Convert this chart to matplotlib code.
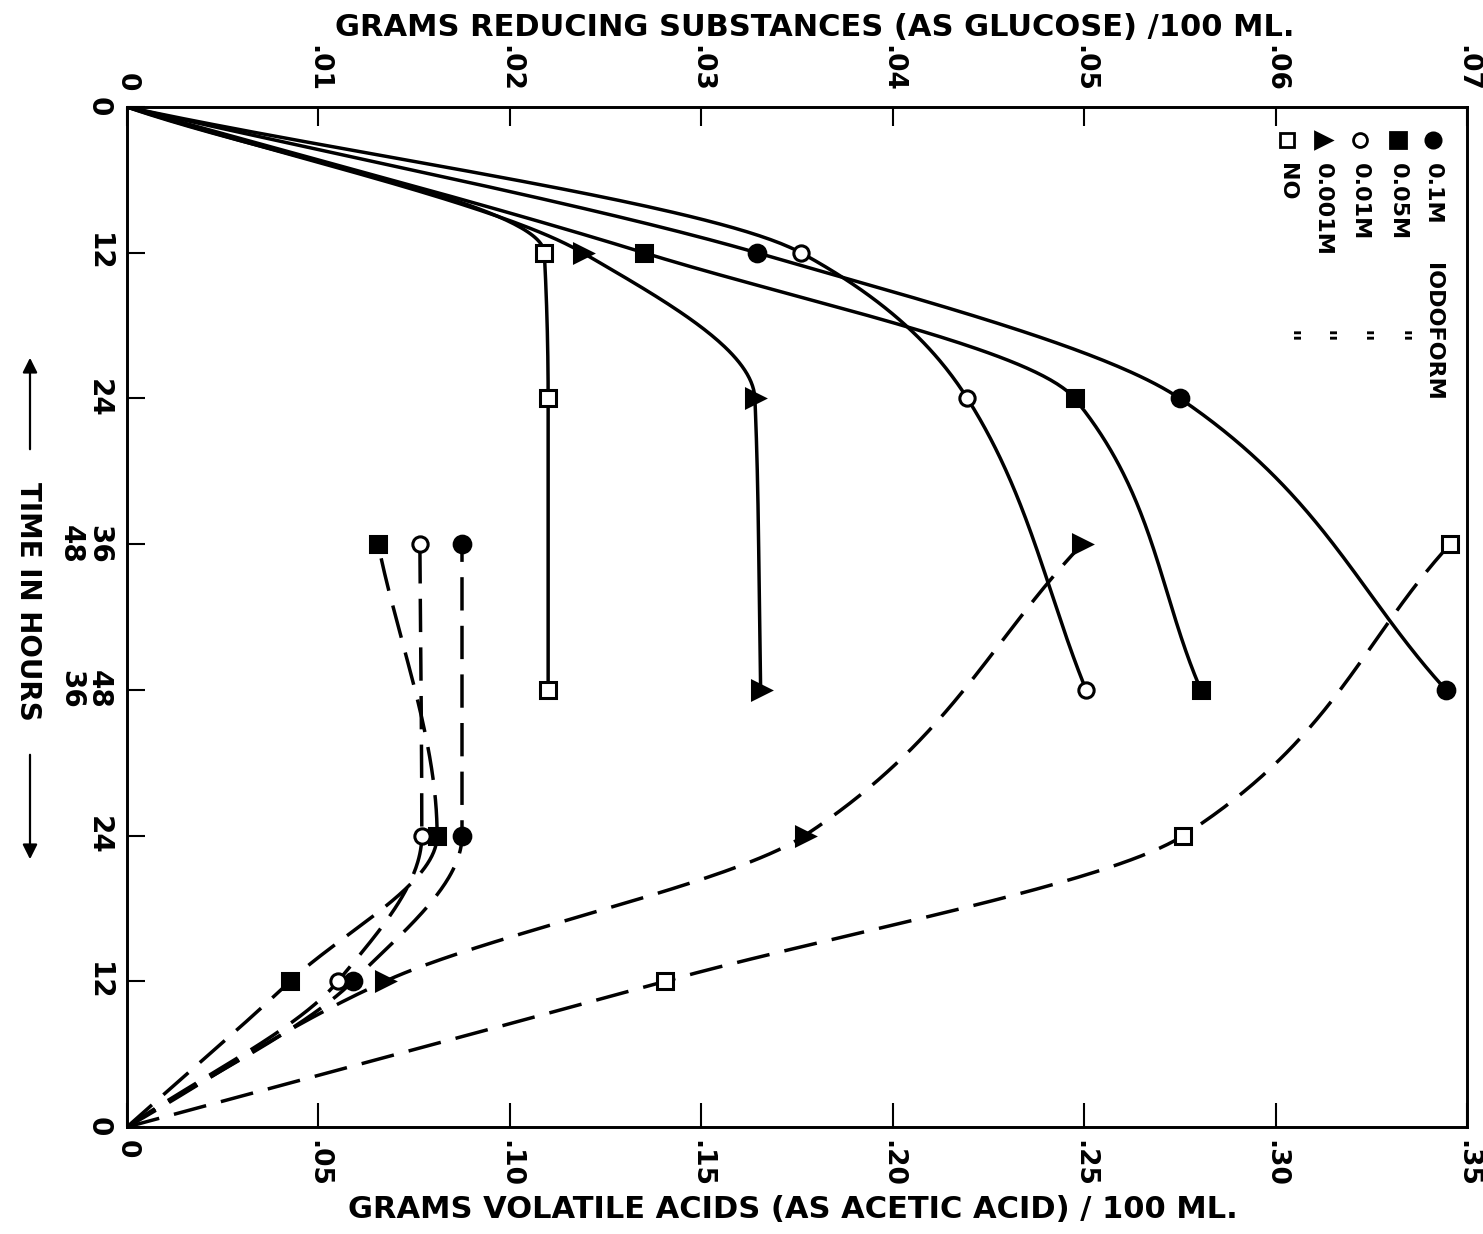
import numpy as np
import matplotlib.pyplot as plt

plt.rcParams['font.family'] = ['DejaVu Sans']
plt.rcParams['font.weight'] = 'bold'
plt.rcParams['lines.scale_dashes'] = False

W, H = 1483, 1234

# sampling times (hours)
hours = [0, 12, 24, 48]

# grams reducing substances (as glucose) / 100 ml  -- upper half, solid lines
glu_01 = [0, 0.0329, 0.0550, 0.0689]
glu_005 = [0, 0.0270, 0.0495, 0.0561]
glu_001 = [0, 0.0352, 0.0439, 0.0501]
glu_0001 = [0, 0.0238, 0.0328, 0.0331]
glu_no = [0, 0.0218, 0.0220, 0.0220]

# grams volatile acids (as acetic acid) / 100 ml  -- lower half, dashed lines
acid_01 = [0, 0.0590, 0.0875, 0.0875]
acid_005 = [0, 0.0426, 0.0810, 0.0656]
acid_001 = [0, 0.0551, 0.0770, 0.0765]
acid_0001 = [0, 0.0674, 0.1770, 0.2495]
acid_no = [0, 0.1405, 0.2759, 0.3456]

labels = ['0.1M', '0.05M', '0.01M', '0.001M', 'NO']
glucose = [glu_01, glu_005, glu_001, glu_0001, glu_no]
acids = [acid_01, acid_005, acid_001, acid_0001, acid_no]

markers = ['o', 's', 'o', '>', 's']
faces = ['k', 'k', 'white', 'k', 'white']
msizes = [12, 12, 11, 13, 11]

acid_ticks = [0, 0.05, 0.10, 0.15, 0.20, 0.25, 0.30, 0.35]
acid_ticklabels = ['0', '.05', '.10', '.15', '.20', '.25', '.30', '.35']
glu_ticks = [0, 0.01, 0.02, 0.03, 0.04, 0.05, 0.06, 0.07]
glu_ticklabels = ['0', '.01', '.02', '.03', '.04', '.05', '.06', '.07']
time_ticks = [0, 12, 24, 36, 48, 60, 72, 84]
time_ticklabels = ['0', '12', '24', '36\n48', '48\n36', '24', '12', '0']
SPAN = 84  # glucose time runs down from the top, acid time runs up from the bottom


def smooth(t, v, n=300):
    # monotone cubic (hermite) curve through the points, just for drawing the line
    t = np.asarray(t, float)
    v = np.asarray(v, float)
    h = np.diff(t)
    d = np.diff(v) / h
    m = np.zeros_like(v)
    m[0] = d[0]
    m[-1] = d[-1]
    for k in range(1, len(v) - 1):
        if d[k - 1] * d[k] > 0:
            w1 = 2 * h[k] + h[k - 1]
            w2 = h[k] + 2 * h[k - 1]
            m[k] = (w1 + w2) / (w1 / d[k - 1] + w2 / d[k])
    tt = np.linspace(t[0], t[-1], n)
    i = np.clip(np.searchsorted(t, tt) - 1, 0, len(h) - 1)
    s = (tt - t[i]) / h[i]
    vv = ((2 * s**3 - 3 * s**2 + 1) * v[i] + (s**3 - 2 * s**2 + s) * h[i] * m[i]
          + (-2 * s**3 + 3 * s**2) * v[i + 1] + (s**3 - s**2) * h[i] * m[i + 1])
    return tt, vv


def fp(x, y):
    # pixel position on the page -> figure fraction
    return x / W, 1 - y / H


fig = plt.figure(figsize=(W / 100, H / 100), dpi=100)
ax = fig.add_axes([127 / W, 1 - 1127 / H, 1340 / W, 1020 / H])
ax2 = ax.twiny()

for g, a, mk, fc, ms in zip(glucose, acids, markers, faces, msizes):
    tt, vv = smooth(hours, g)
    ax2.plot(vv, tt, color='k', lw=2.5, zorder=2)
    ax2.plot(g[1:], hours[1:], ls='none', marker=mk, mfc=fc, mec='k', mew=2.2, ms=ms, zorder=3)
    tt, vv = smooth(hours, a)
    ax.plot(vv, SPAN - tt, color='k', lw=2.5, ls=(0, (24, 11)), zorder=2)
    ax.plot(a[1:], [SPAN - h for h in hours[1:]], ls='none', marker=mk, mfc=fc, mec='k',
            mew=2.2, ms=ms, zorder=3)

ax.set_xlim(0, 0.35)
ax2.set_xlim(0, 0.07)
ax.set_ylim(SPAN, 0)

ax.set_xticks(acid_ticks)
ax.set_xticklabels(acid_ticklabels)
ax2.set_xticks(glu_ticks)
ax2.set_xticklabels(glu_ticklabels)
ax.set_yticks(time_ticks)
ax.set_yticklabels(time_ticklabels)

ax.xaxis.set_ticks_position('bottom')
ax2.xaxis.set_ticks_position('top')
ax.yaxis.set_ticks_position('left')
ax.tick_params(axis='x', direction='in', length=17, width=1.5, pad=9, labelsize=19,
               labelrotation=-90)
ax2.tick_params(axis='x', direction='in', length=14, width=1.5, pad=11, labelsize=19,
                labelrotation=-90)
ax.tick_params(axis='y', direction='in', length=13, width=1.5, pad=10, labelsize=20,
               labelrotation=-90)
for lab in ax.get_yticklabels():
    lab.set_va('center')
    lab.set_linespacing(1.0)

for a_ in (ax, ax2):
    for sp in a_.spines.values():
        sp.set_linewidth(1.9)

# axis titles
fig.text(*fp(815, 28), 'GRAMS REDUCING SUBSTANCES (AS GLUCOSE) /100 ML.',
         fontsize=22, ha='center', va='center')
fig.text(*fp(793, 1209), 'GRAMS VOLATILE ACIDS (AS ACETIC ACID) / 100 ML.',
         fontsize=22, ha='center', va='center')
fig.text(*fp(28, 601), 'TIME IN HOURS', fontsize=20, rotation=-90, ha='center', va='center')
ax.annotate('', xy=fp(30, 355), xytext=fp(30, 452), xycoords='figure fraction',
            arrowprops=dict(arrowstyle='-|>', lw=1.6, color='k', mutation_scale=22))
ax.annotate('', xy=fp(30, 862), xytext=fp(30, 752), xycoords='figure fraction',
            arrowprops=dict(arrowstyle='-|>', lw=1.6, color='k', mutation_scale=22))

# legend, written sideways like the rest of the page
row_x = [1433, 1398, 1360, 1323, 1287]
for k, (lab, mk, fc, ms) in enumerate(zip(labels, markers, faces, msizes)):
    x = row_x[k]
    ax.plot(*fp(x, 140), transform=fig.transFigure, clip_on=False, ls='none', marker=mk,
            mfc=fc, mec='k', mew=2, ms=ms - 1)
    fig.text(*fp(x, 163), lab, fontsize=16, rotation=-90, ha='center', va='top')
    if k == 0:
        fig.text(*fp(x, 263), 'IODOFORM', fontsize=16, rotation=-90, ha='center', va='top')
    else:
        fig.text(*fp(x, 337), '"', fontsize=18, rotation=-90, ha='center', va='center')

fig.savefig('out.png', dpi=100)
